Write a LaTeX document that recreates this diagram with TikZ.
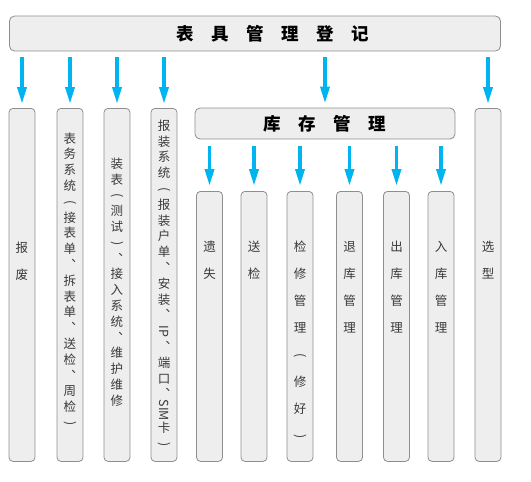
\documentclass[tikz,border=0pt]{standalone}
\usepackage{fontspec}
\setmainfont{Noto Sans CJK SC}
\usepackage{graphicx}
\usepackage{xcolor}
\usepackage{tikz}
\usetikzlibrary{arrows.meta}

\definecolor{boxfill}{HTML}{EEEEEE}
\definecolor{boxline}{HTML}{8E8E8E}
\definecolor{arrowblue}{HTML}{00B5EF}
\definecolor{textgray}{HTML}{3A3A3A}

% vertical brackets
\newcommand{\vopen}{\rotatebox[origin=c]{-90}{(}}
\newcommand{\vclose}{\rotatebox[origin=c]{-90}{)}}

\begin{document}
\begin{tikzpicture}[x=1pt,y=-1pt,
        box/.style={draw=boxline, fill=boxfill, line width=0.8pt, rounded corners=5pt, inner sep=0pt},
        col/.style={box, minimum width=26pt, anchor=north, rounded corners=4pt},
        head/.style={font=\fontsize{17.5}{17.5}\selectfont\bfseries, text=black},
        coltext/.style={font=\fontsize{12.5}{27}\selectfont, text=textgray, align=center, inner sep=0pt, anchor=north},
        longtext/.style={font=\fontsize{12.5}{15.8}\selectfont, text=textgray, align=center, inner sep=0pt},
        down/.style={arrowblue, line width=3.5pt, -{Triangle[width=9pt,length=17pt]}}]
        \useasboundingbox (0,0) rectangle (531,482);

        % Top register box
        \node[box, head, minimum width=491pt, minimum height=35pt] (reg) at (255,33.5)
            {\hspace*{36pt}表\quad 具\quad 管\quad 理\quad 登\quad 记};

        % Main columns
        \node[col, minimum height=353pt] (scrap) at (22,108) {};
        \node[col, minimum height=353pt] (jobs) at (70,108) {};
        \node[col, minimum height=353pt] (install) at (117,108) {};
        \node[col, minimum height=353pt] (apply) at (164,108) {};
        \node[col, minimum height=353pt] (select) at (488,108) {};

        % Storage box and its columns
        \node[box, head, minimum width=260pt, minimum height=31pt] (store) at (325,123.5)
            {库\quad 存\quad 管\quad 理};
        \node[col, minimum height=270pt] (lost) at (209.5,191) {};
        \node[col, minimum height=270pt] (check) at (254,191) {};
        \node[col, minimum height=270pt] (repair) at (300,191) {};
        \node[col, minimum height=270pt] (back) at (349.5,191) {};
        \node[col, minimum height=270pt] (out) at (396.5,191) {};
        \node[col, minimum height=270pt] (in) at (441,191) {};

        % Column texts
        \node[coltext] (scrapt) at ([yshift=-134pt]scrap.north) {报\\废};
        \node[longtext] (jobst) at (70,280) {表\\务\\系\\统\\\vopen\\接\\表\\单\\︑\\拆\\表\\单\\︑\\送\\检\\︑\\周\\检\\\vclose};
        \node[longtext] (installt) at (117,282) {装\\表\\\vopen\\测\\试\\\vclose\\︑\\接\\入\\系\\统\\︑\\维\\护\\维\\修};
        \node[longtext] (applyt) at (164,284) {报\\装\\系\\统\\\vopen\\报\\装\\户\\单\\︑\\安\\装\\︑\\\rotatebox[origin=c]{-90}{IP}\\︑\\端\\口\\︑\\\rotatebox[origin=c]{-90}{SIM}\\卡\\\vclose};
        \node[coltext] (selectt) at ([yshift=-133pt]select.north) {选\\型};
        \node[coltext] (lostt) at ([yshift=-50pt]lost.north) {遗\\失};
        \node[coltext] (checkt) at ([yshift=-50pt]check.north) {送\\检};
        \node[coltext] (repairt) at ([yshift=-50pt]repair.north) {检\\修\\管\\理\\\vopen\\修\\好\\\vclose};
        \node[coltext] (backt) at ([yshift=-50pt]back.north) {退\\库\\管\\理};
        \node[coltext] (outt) at ([yshift=-50pt]out.north) {出\\库\\管\\理};
        \node[coltext] (int) at ([yshift=-50pt]in.north) {入\\库\\管\\理};

        % Arrows from the register box
        \draw[down] ([yshift=-6pt]reg.south -| scrap.north) -- ([yshift=4pt]scrap.north);
        \draw[down] ([yshift=-6pt]reg.south -| jobs.north) -- ([yshift=4pt]jobs.north);
        \draw[down] ([yshift=-6pt]reg.south -| install.north) -- ([yshift=4pt]install.north);
        \draw[down] ([yshift=-6pt]reg.south -| apply.north) -- ([yshift=4pt]apply.north);
        \draw[down] ([yshift=-6pt]reg.south -| store.north) -- ([yshift=4pt]store.north);
        \draw[down] ([yshift=-6pt]reg.south -| select.north) -- ([yshift=4pt]select.north);

        % Arrows from the storage box
        \draw[down] ([yshift=-7pt]store.south -| lost.north) -- ([yshift=5pt]lost.north);
        \draw[down] ([yshift=-7pt]store.south -| check.north) -- ([yshift=5pt]check.north);
        \draw[down] ([yshift=-7pt]store.south -| repair.north) -- ([yshift=5pt]repair.north);
        \draw[down] ([yshift=-7pt]store.south -| back.north) -- ([yshift=5pt]back.north);
        \draw[down] ([yshift=-7pt]store.south -| out.north) -- ([yshift=5pt]out.north);
        \draw[down] ([yshift=-7pt]store.south -| in.north) -- ([yshift=5pt]in.north);
    \end{tikzpicture}
\end{document}
